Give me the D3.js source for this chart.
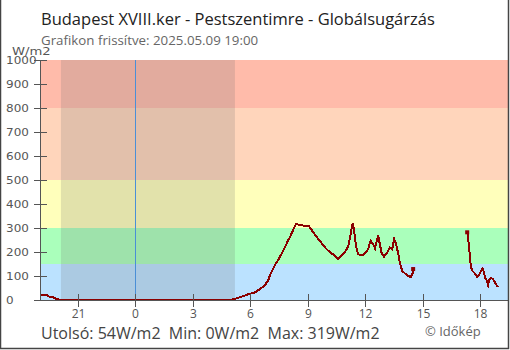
<!DOCTYPE html>
<html><head><meta charset="utf-8">
<script src="https://cdn.jsdelivr.net/npm/d3@7"></script>
<style>
html,body{margin:0;padding:0;background:#fff;}
svg{display:block;font-family:"Open Sans",sans-serif;}
</style></head><body>
<script>
// hours relative to midnight 2025-05-09 (negative = previous evening)
const hours = [-4.92,-4.62,-4.5,-4.3,-4.15,-4.0,-3.8,0,4.94,5.2,5.46,5.72,5.98,6.25,6.51,6.77,6.94,7.03,7.2,7.29,7.46,7.64,7.81,7.98,8.07,8.24,8.37,8.59,8.85,9.06,9.2,9.46,9.73,9.99,10.25,10.42,10.59,10.77,10.94,11.11,11.2,11.29,11.34,11.41,11.46,11.55,11.63,11.81,11.9,12.07,12.16,12.28,12.42,12.51,12.59,12.68,12.77,12.86,12.98,13.12,13.29,13.41,13.51,13.59,13.72,13.81,13.93,14.07,14.24,14.37,14.47,14.5,15.9,17.32,17.37,17.43,17.48,17.51,17.6,17.72,17.84,17.98,18.13,18.19,18.25,18.33,18.41,18.47,18.56,18.66,18.75,18.83,18.93];
const values = [20,20,14,12,6,2,0,0,0,4,12,19,26,32,46,62,83,104,132,146,167,194,220,250,262,292,315,314,308,307,292,264,236,211,194,185,171,185,201,222,257,299,319,299,257,215,190,188,188,201,215,247,232,215,243,268,229,194,181,194,219,211,254,240,194,153,121,111,101,95,111,129,null,282,257,208,167,139,121,111,95,111,132,118,93,83,62,83,93,87,76,65,54];
const yTicks = [0,100,200,300,400,500,600,700,800,900,1000];
const xTickHours = [-3,0,3,6,9,12,15,18];
const xTickLabels = ["21","0","3","6","9","12","15","18"];
const bandLimits = [0,150,300,500,800,1000];
const bandColors = ["#bbe2ff","#aaffbb","#ffffbb","#ffd5bb","#ffbbaa"];
const nightStart = -3.88, nightEnd = 5.2;
const title = "Budapest XVIII.ker - Pestszentimre - Globálsugárzás";
const subtitle = "Grafikon frissítve: 2025.05.09 19:00";
const footer = "Utolsó: 54W/m2  Min: 0W/m2  Max: 319W/m2";

const W=510,H=350;
const svg=d3.select("body").append("svg").attr("width",W).attr("height",H);
const x=d3.scaleLinear().domain([-4.92,19.45]).range([41,508]);
const y=d3.scaleLinear().domain([0,1000]).range([300,60]);

// bands
svg.selectAll("rect.band").data(bandColors).enter().append("rect")
  .attr("x",x.range()[0]).attr("width",x.range()[1]-x.range()[0])
  .attr("y",(d,i)=>y(bandLimits[i+1])).attr("height",(d,i)=>y(bandLimits[i])-y(bandLimits[i+1]))
  .attr("fill",d=>d);
// night
svg.append("rect").attr("x",x(nightStart)).attr("width",x(nightEnd)-x(nightStart))
  .attr("y",y(1000)).attr("height",y(0)-y(1000)).attr("fill","rgba(110,110,110,0.2)");
// midnight line
svg.append("line").attr("x1",Math.round(x(0))+0.5).attr("x2",Math.round(x(0))+0.5)
  .attr("y1",y(1000)).attr("y2",y(0)).attr("stroke","#4a8fd6").attr("stroke-width",1);

// data line
const data=hours.map((h,i)=>({h,v:values[i]}));
const line=d3.line().defined(d=>d.v!==null).x(d=>x(d.h)).y(d=>y(d.v));
svg.append("path").datum(data).attr("d",line).attr("fill","none")
  .attr("stroke","#8b0000").attr("stroke-width",2).attr("stroke-linejoin","miter")
  .attr("shape-rendering","crispEdges");
// markers at gap ends
const ends=data.filter((d,i)=>d.v!==null&&((i>0&&data[i-1].v===null)||(i<data.length-1&&data[i+1].v===null)));
svg.selectAll("rect.m").data(ends).enter().append("rect")
  .attr("x",d=>x(d.h)-2).attr("y",d=>y(d.v)-2).attr("width",4).attr("height",4).attr("fill","#8b0000");

// axes
const ax="#555";
svg.append("line").attr("x1",40.5).attr("x2",40.5).attr("y1",60).attr("y2",300).attr("stroke",ax);
svg.append("line").attr("x1",34).attr("x2",508).attr("y1",300.5).attr("y2",300.5).attr("stroke",ax);
const yt=svg.append("g");
yTicks.forEach(t=>{
  const yy=Math.round(y(t))+0.5;
  yt.append("line").attr("x1",34).attr("x2",47).attr("y1",yy).attr("y2",yy).attr("stroke",ax);
  yt.append("text").attr("transform",`translate(6,${yy+3.5}) scale(1.2,1)`).attr("font-size",10)
    .attr("font-family","DejaVu Sans").attr("fill",ax).text(t);
});
xTickHours.forEach((h,i)=>{
  const xx=Math.round(x(h))+0.5;
  svg.append("line").attr("x1",xx).attr("x2",xx).attr("y1",294).attr("y2",307).attr("stroke",ax);
  svg.append("text").attr("x",xx).attr("y",318).attr("text-anchor","middle").attr("font-size",12)
    .attr("fill",ax).text(xTickLabels[i]);
});
svg.append("text").attr("transform","translate(12,54.5) scale(1.2,1)").attr("font-size",11)
  .attr("font-family","DejaVu Sans").attr("fill",ax).text("W/m2");

// titles
svg.append("text").attr("x",41).attr("y",24.5).attr("font-size",16.5).attr("fill","#222").text(title);
svg.append("text").attr("x",41).attr("y",44.5).attr("font-size",13.3).attr("fill","#666").text(subtitle);
svg.append("text").attr("x",41).attr("y",338.5).attr("font-size",16).attr("fill","#444").attr("xml:space","preserve").style("white-space","pre").text(footer);
svg.append("text").attr("x",425).attr("y",336).attr("font-size",13).attr("fill","#666").text("© Időkép");

// frame
svg.append("path").attr("d","M0.5,0V348.5H508.5V0").attr("fill","none").attr("stroke","#444").attr("stroke-width",1.5);
</script></body></html>
